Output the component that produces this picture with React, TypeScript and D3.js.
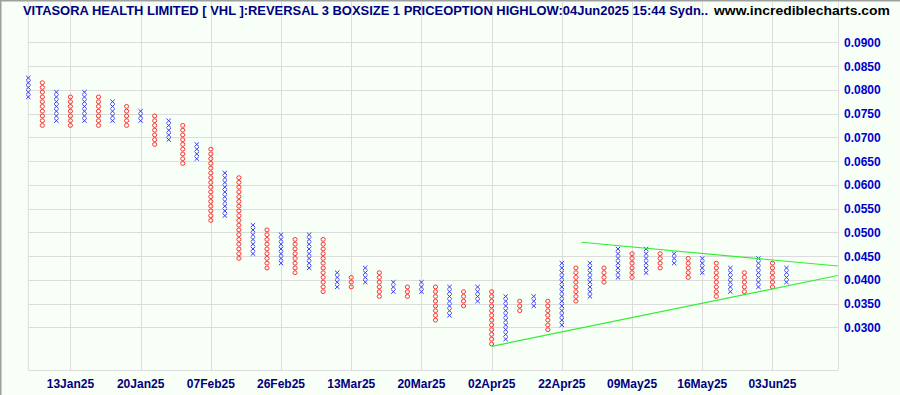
import React from "react";
import * as d3 from "d3";

// Point & figure columns: type, bottom box, top box (box size 0.001)
const colTypes = ["X","O","X","O","X","O","X","O","X","O","X","O","X","O","X","O","X","O","X","O","X","O","X","O","X","O","X","O","X","O","X","O","X","O","X","O","X","O","X","O","X","O","X","O","X","O","X","O","X","O","X","O","X","O","X"];
const colLow = [78,72,73,72,73,72,73,72,73,68,69,64,65,52,53,44,45,42,43,41,42,37,38,38,39,36,37,36,37,31,32,34,35,26,27,33,34,29,30,35,36,39,40,40,41,42,43,40,41,36,37,37,38,38,39];
const colHigh = [82,81,79,78,79,78,77,76,75,74,73,72,68,67,62,61,51,50,49,48,49,48,41,40,42,41,39,38,39,38,38,37,38,37,36,35,36,35,43,42,43,42,46,45,46,45,45,44,44,43,42,41,44,43,42];
const boxSize = 0.001;

const yTicks = [0.03, 0.035, 0.04, 0.045, 0.05, 0.055, 0.06, 0.065, 0.07, 0.075, 0.08, 0.085, 0.09];
const dateCols = [3, 8, 13, 18, 23, 28, 33, 38, 43, 48, 53];
const dateLabels = ["13Jan25","20Jan25","07Feb25","26Feb25","13Mar25","20Mar25","02Apr25","22Apr25","09May25","16May25","03Jun25"];

// trendlines: [startCol, startValue, endCol, endValue]
const upperTrend = [39.4, 0.0479, 57.65, 0.0429];
const lowerTrend = [33, 0.026, 57.65, 0.0409];

const titleText = "VITASORA HEALTH LIMITED [ VHL ]:REVERSAL 3 BOXSIZE 1 PRICEOPTION HIGHLOW:04Jun2025 15:44 Sydn..";
const siteText = "www.incrediblecharts.com";

export default function App() {
  const W = 900, H = 395;
  const left = 28.3, right = 838, bottom = 370;
  const x = d3.scaleLinear().domain([0, 54]).range([28.3, 786.5]);
  const y = d3.scaleLinear().domain([0.03, 0.09]).range([327.3, 42.3]);
  const font = "'Liberation Sans', Arial, sans-serif";

  const marks: React.ReactNode[] = [];
  colTypes.forEach((t, i) => {
    const cx = x(i);
    for (let k = colLow[i]; k <= colHigh[i]; k++) {
      const y0 = y((k + 1) * boxSize);
      const y1 = y(k * boxSize);
      const h = y1 - y0;
      if (t === "X") {
        marks.push(
          <path key={`${i}-${k}`} d={`M${cx - 2.2},${y0 + 0.3}L${cx + 2.2},${y1 - 0.3}M${cx + 2.2},${y0 + 0.3}L${cx - 2.2},${y1 - 0.3}`} stroke="#3a3aff" strokeWidth={1} fill="none" />
        );
      } else {
        marks.push(
          <ellipse key={`${i}-${k}`} cx={cx} cy={(y0 + y1) / 2} rx={2.1} ry={h / 2 - 0.45} stroke="#ff3333" strokeWidth={1} fill="none" />
        );
      }
    }
  });

  const line = d3.line<[number, number]>().x(d => x(d[0])).y(d => y(d[1]));

  return (
    <svg width={W} height={H} style={{ position: "absolute", left: 0, top: 0 }}>
      <rect x={0} y={0} width={W} height={H} fill="#f7fff7" />
      {/* frame */}
      <line x1={0.5} y1={0} x2={0.5} y2={H} stroke="#a0a0a0" strokeWidth={2} />
      <line x1={0} y1={0.5} x2={W} y2={0.5} stroke="#a0a0a0" strokeWidth={2} />
      {/* horizontal grid */}
      {yTicks.map(v => (
        <line key={v} x1={left} x2={right} y1={Math.round(y(v)) + 0.5} y2={Math.round(y(v)) + 0.5} stroke="#dcdcdc" />
      ))}
      {/* vertical grid */}
      {dateCols.map(c => (
        <line key={c} x1={Math.round(x(c)) + 0.5} x2={Math.round(x(c)) + 0.5} y1={2} y2={bottom} stroke="#dcdcdc" />
      ))}
      <line x1={left} x2={left} y1={2} y2={bottom} stroke="#dcdcdc" />
      <line x1={right + 0.5} x2={right + 0.5} y1={2} y2={bottom} stroke="#dcdcdc" />
      <line x1={left} x2={right} y1={bottom + 0.5} y2={bottom + 0.5} stroke="#dcdcdc" />
      {marks}
      <path d={line([[upperTrend[0], upperTrend[1]], [upperTrend[2], upperTrend[3]]]) || ""} stroke="#33ee33" strokeWidth={1.2} fill="none" />
      <path d={line([[lowerTrend[0], lowerTrend[1]], [lowerTrend[2], lowerTrend[3]]]) || ""} stroke="#33ee33" strokeWidth={1.2} fill="none" />
      {/* y labels */}
      {yTicks.map(v => (
        <text key={v} x={844} y={y(v) + 4.5} fontFamily={font} fontWeight="bold" fontSize={12} fill="#0000cc">{v.toFixed(4)}</text>
      ))}
      {/* x labels */}
      {dateCols.map((c, i) => (
        <text key={c} x={x(c)} y={388} textAnchor="middle" fontFamily={font} fontWeight="bold" fontSize={12} fill="#000080">{dateLabels[i]}</text>
      ))}
      <text x={23} y={15} textLength={685} lengthAdjust="spacingAndGlyphs" fontFamily={font} fontWeight="bold" fontSize={13} fill="#000080">{titleText}</text>
      <text x={714} y={15} textLength={176} lengthAdjust="spacingAndGlyphs" fontFamily={font} fontWeight="bold" fontSize={13} fill="#000000">{siteText}</text>
    </svg>
  );
}
